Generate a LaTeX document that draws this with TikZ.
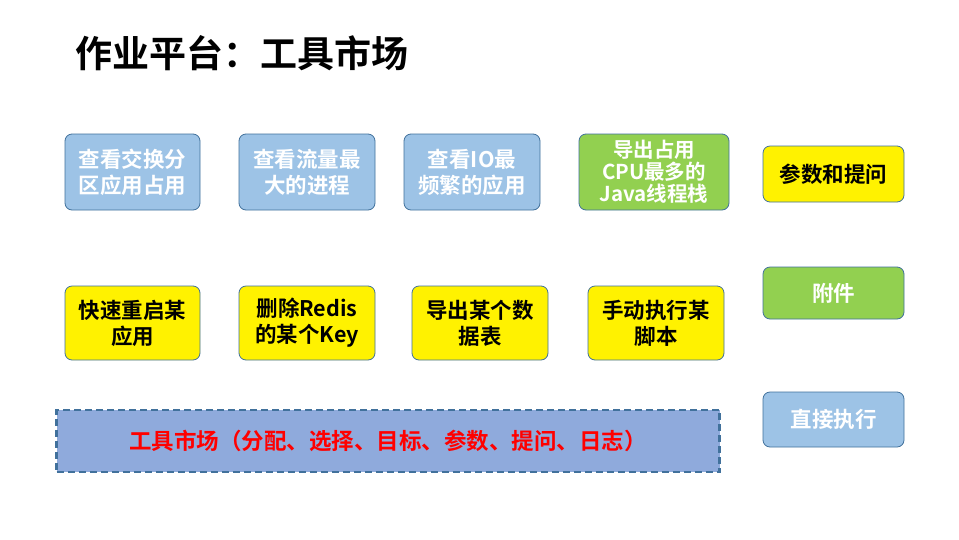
\documentclass[tikz,border=0pt]{standalone}
\usepackage{fontspec}
\setmainfont{Noto Sans CJK SC}[BoldFont={Noto Sans CJK SC Bold}]
\definecolor{bfill}{HTML}{9DC3E6}
\definecolor{bdraw}{HTML}{41719C}
\definecolor{gfill}{HTML}{92D050}
\definecolor{mfill}{HTML}{8FAADC}
\begin{document}
\begin{tikzpicture}[x=1pt,y=-1pt,
 card/.style={draw=bdraw,line width=0.8pt,rounded corners=7pt,align=center,font=\bfseries\fontsize{21.5}{26}\selectfont,inner sep=0pt},
 bluec/.style={card,fill=bfill,text=white},
 greenc/.style={card,fill=gfill,text=white},
 yelc/.style={card,fill=yellow,text=black}]
\useasboundingbox[fill=white] (0,0) rectangle (959,539);
\node[anchor=west,font=\bfseries\fontsize{37}{40}\selectfont] (title) at (72,53) {作业平台：工具市场};
\node[bluec,minimum width=135pt,minimum height=76pt] (a1) at (132.5,172) {查看交换分\\区应用占用};
\node[bluec,minimum width=136pt,minimum height=76pt] (a2) at (307,172) {查看流量最\\大的进程};
\node[bluec,minimum width=136pt,minimum height=76pt] (a3) at (472,172) {查看IO最\\频繁的应用};
\node[greenc,minimum width=150pt,minimum height=76pt,font=\bfseries\fontsize{20.5}{22}\selectfont] (a4) at (654,172) {导出占用\\CPU最多的\\Java线程栈};
\node[yelc,minimum width=141pt,minimum height=56pt] (p) at (833.5,174) {参数和提问};
\node[yelc,minimum width=135pt,minimum height=74pt] (b1) at (132.5,323) {快速重启某\\应用};
\node[yelc,minimum width=136pt,minimum height=74pt] (b2) at (307,323) {删除Redis\\的某个Key};
\node[yelc,minimum width=136pt,minimum height=74pt] (b3) at (480,323) {导出某个数\\据表};
\node[yelc,minimum width=136pt,minimum height=74pt] (b4) at (656,323) {手动执行某\\脚本};
\node[greenc,minimum width=141pt,minimum height=52pt] (att) at (833.5,293) {附件};
\node[bluec,minimum width=141pt,minimum height=55pt] (run) at (833.5,419.5) {直接执行};
\node[draw=bdraw,line width=2.2pt,dash pattern=on 7pt off 4pt,fill=mfill,minimum width=663pt,minimum height=62pt,inner sep=0pt,text=red,font=\bfseries\fontsize{22.5}{24}\selectfont] (m) at (388,441) {工具市场（分配、选择、目标、参数、提问、日志）};
\end{tikzpicture}
\end{document}
